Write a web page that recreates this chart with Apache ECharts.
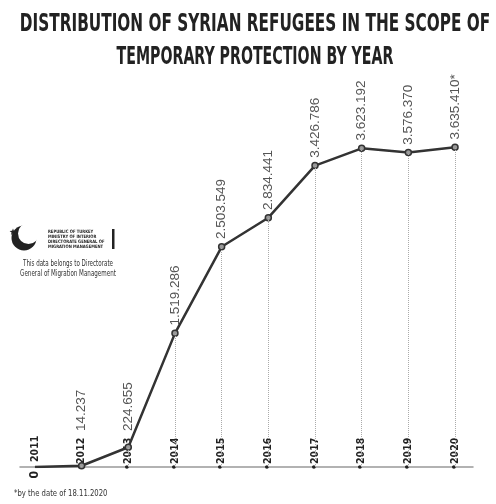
<!DOCTYPE html>
<html>
<head>
<meta charset="utf-8">
<script src="https://cdn.jsdelivr.net/npm/echarts@6/dist/echarts.min.js"></script>
<style>html,body{margin:0;padding:0;background:#fff;}#c{width:496px;height:504px;}</style>
</head>
<body>
<div id="c"></div>
<script>
// ---- data ----
var years = [2011, 2012, 2013, 2014, 2015, 2016, 2017, 2018, 2019, 2020];
var values = [0, 14237, 224655, 1519286, 2503549, 2834441, 3426786, 3623192, 3576370, 3635410];
var valueNotes = ['', '', '', '', '', '', '', '', '', '*'];
var titleLines = ['DISTRIBUTION OF SYRIAN REFUGEES IN THE SCOPE OF', 'TEMPORARY PROTECTION BY YEAR'];
var logoCaps = ['REPUBLIC OF TURKEY', 'MINISTRY OF INTERIOR', 'DIRECTORATE GENERAL OF', 'MIGRATION MANAGEMENT'];
var logoNote = ['This data belongs to Directorate', 'General of Migration Management'];
var footnote = '*by the date of 18.11.2020';

function fmt(v) { return String(v).replace(/\B(?=(\d{3})+(?!\d))/g, '.'); }

var NARROW = "'Liberation Sans Narrow', 'DejaVu Sans Condensed', sans-serif";
var LABEL_FLOOR = 431; // keep value labels clear of the year labels

var chart = echarts.init(document.getElementById('c'), null, {renderer: 'canvas'});

var seriesData = years.map(function (y, i) {
  var item = {value: [y, values[i]]};
  if (i === 0) {
    item.label = {position: 'bottom', align: 'right', verticalAlign: 'middle', distance: 4,
      color: '#222', fontWeight: 'bold', fontFamily: NARROW, fontSize: 12};
    item.symbolSize = 0;
  }
  return item;
});

var dropLines = years.slice(1).map(function (y, i) {
  return [{coord: [y, 0]}, {coord: [y, values[i + 1]]}];
});

function starPoints(cx, cy, R, r) {
  var pts = [];
  for (var k = 0; k < 10; k++) {
    var a = -Math.PI / 2 + k * Math.PI / 5;
    var rr = k % 2 === 0 ? R : r;
    pts.push([cx + rr * Math.cos(a), cy + rr * Math.sin(a)]);
  }
  return pts;
}

var graphics = [];
titleLines.forEach(function (t, i) {
  graphics.push({type: 'text', x: 255, y: 12 + i * 33, scaleX: i === 0 ? 0.68 : 0.63,
    style: {text: t, fill: '#222', font: "bold 25px " + NARROW,
      textAlign: 'center', align: 'center', textVerticalAlign: 'top', verticalAlign: 'top'}});
});
// logo
graphics.push({type: 'circle', shape: {cx: 24, cy: 238, r: 12.5}, style: {fill: '#222'}});
graphics.push({type: 'circle', shape: {cx: 28.5, cy: 233.5, r: 10.5}, style: {fill: '#fff'}});
graphics.push({type: 'polygon', shape: {points: starPoints(13, 232, 3.6, 1.5)}, style: {fill: '#222'}});
logoCaps.forEach(function (t, i) {
  graphics.push({type: 'text', x: 48, y: 229 + i * 5, scaleX: 0.9,
    style: {text: t, fill: '#222', font: "bold 4.6px " + NARROW, textVerticalAlign: 'top', verticalAlign: 'top'}});
});
graphics.push({type: 'rect', shape: {x: 112, y: 229, width: 2.5, height: 20}, style: {fill: '#222'}});
logoNote.forEach(function (t, i) {
  graphics.push({type: 'text', x: 68, y: 264 + i * 10, scaleX: 0.73,
    style: {text: t, fill: '#333', font: "8.5px " + NARROW,
      textAlign: 'center', align: 'center', textVerticalAlign: 'middle', verticalAlign: 'middle'}});
});
graphics.push({type: 'text', x: 14, y: 494, scaleX: 0.85,
  style: {text: footnote, fill: '#333', font: "9px " + NARROW, textVerticalAlign: 'middle', verticalAlign: 'middle'}});

chart.setOption({
  animation: false,
  backgroundColor: '#fff',
  graphic: graphics,
  grid: {left: 20, right: 23, top: 80, bottom: 37, containLabel: false},
  xAxis: {
    type: 'value', min: 2010.68, max: 2020.385,
    axisLine: {show: true, lineStyle: {color: '#999', width: 1.5}},
    axisTick: {show: false},
    splitLine: {show: false},
    axisLabel: {
      customValues: years, inside: true, rotate: 90, margin: -3,
      align: 'left', verticalAlign: 'middle',
      formatter: function (v) { return (v === years[0] ? '\u2002 ' : '\u2022') + v; },
      color: '#222', fontWeight: 'bold', fontFamily: NARROW, fontSize: 10.5
    }
  },
  yAxis: {type: 'value', min: 0, max: 4400000, show: false},
  series: [{
    type: 'line',
    data: seriesData,
    symbol: 'circle', symbolSize: 6,
    lineStyle: {color: '#333', width: 2.5},
    itemStyle: {color: '#999', borderColor: '#333', borderWidth: 1.5},
    label: {
      show: true, position: 'top', rotate: 90, distance: 4,
      align: 'left', verticalAlign: 'middle',
      color: '#555', fontFamily: "'Liberation Sans', Arial, sans-serif", fontSize: 13.5,
      formatter: function (p) { return fmt(values[p.dataIndex]) + valueNotes[p.dataIndex]; }
    },
    labelLayout: function (p) {
      if (p.dataIndex === 0) return {};
      var bottom = p.labelRect.y + p.labelRect.height;
      if (bottom > LABEL_FLOOR) {
        return {y: LABEL_FLOOR};
      }
      return {};
    },
    markLine: {
      silent: true, symbol: 'none', label: {show: false},
      lineStyle: {type: 'dotted', color: '#aaa', width: 1},
      data: dropLines
    },
    z: 3
  }]
});
</script>
</body>
</html>
